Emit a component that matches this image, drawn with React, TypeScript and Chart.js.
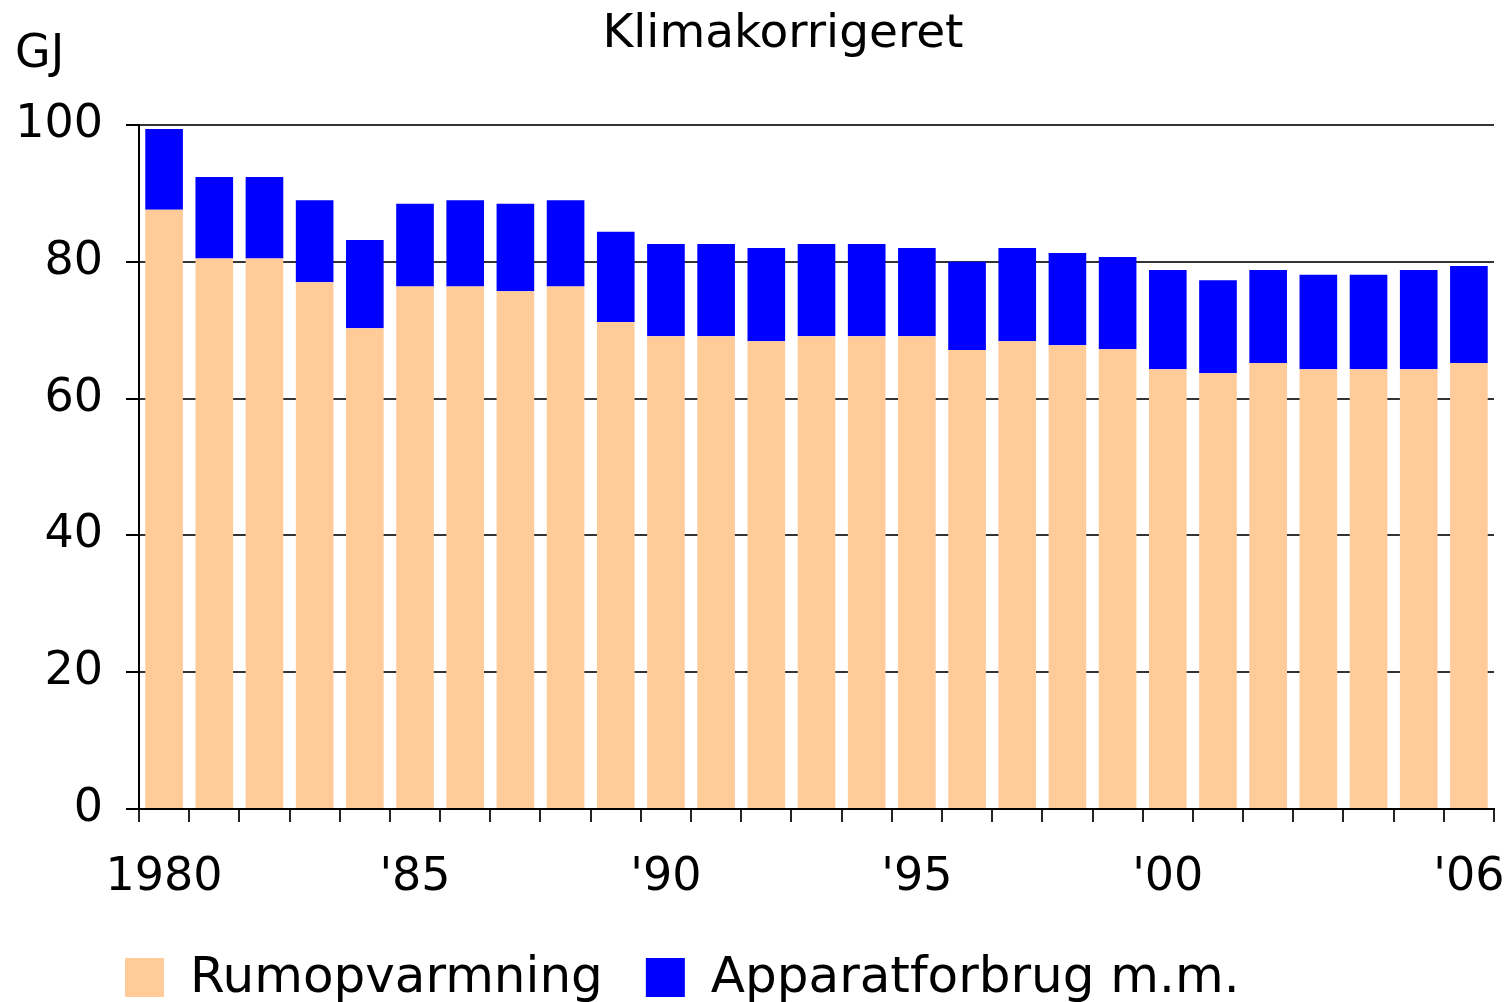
import React, { useEffect, useRef } from "react";
import { Chart, registerables } from "chart.js";

Chart.register(...registerables);

// Categories (years) and their displayed tick labels
const years = [
  1980, 1981, 1982, 1983, 1984, 1985, 1986, 1987, 1988, 1989,
  1990, 1991, 1992, 1993, 1994, 1995, 1996, 1997, 1998, 1999,
  2000, 2001, 2002, 2003, 2004, 2005, 2006,
];
const tickLabels = [
  "1980", "", "", "", "", "'85", "", "", "", "",
  "'90", "", "", "", "", "'95", "", "", "", "",
  "'00", "", "", "", "", "", "'06",
];

// Series values (GJ)
const rumopvarmning = [
  87.6, 80.5, 80.5, 77.0, 70.3, 76.4, 76.4, 75.7, 76.4, 71.2,
  69.1, 69.1, 68.4, 69.1, 69.1, 69.1, 67.1, 68.4, 67.8, 67.2,
  64.3, 63.7, 65.2, 64.3, 64.3, 64.3, 65.2,
];
const apparatforbrug = [
  11.8, 11.9, 11.9, 12.0, 12.9, 12.1, 12.6, 12.8, 12.6, 13.2,
  13.5, 13.5, 13.6, 13.5, 13.5, 12.9, 12.9, 13.6, 13.5, 13.5,
  14.5, 13.6, 13.6, 13.8, 13.8, 14.5, 14.2,
];

const seriesNames = ["Rumopvarmning", "Apparatforbrug m.m."];
const seriesColors = ["#FFCC99", "#0000FF"];
const yMin = 0;
const yMax = 100;
const yStep = 20;

const titleText = "Klimakorrigeret";
const unitText = "GJ";

const FONT = '"DejaVu Sans", Verdana, sans-serif';

const overlayPlugin = {
  id: "overlay",
  afterDraw(chart: any) {
    const ctx = chart.ctx as CanvasRenderingContext2D;
    ctx.save();
    ctx.fillStyle = "#000";
    ctx.textBaseline = "alphabetic";
    ctx.font = `47px ${FONT}`;
    ctx.textAlign = "center";
    ctx.fillText(titleText, 783, 47);
    ctx.font = `46px ${FONT}`;
    ctx.textAlign = "left";
    ctx.fillText(unitText, 15, 67);

    // Legend
    ctx.font = `50px ${FONT}`;
    let x = 125;
    const boxTop = 958;
    const boxSize = 39;
    chart.data.datasets.forEach((ds: any) => {
      ctx.fillStyle = ds.backgroundColor;
      ctx.fillRect(x, boxTop, boxSize, boxSize);
      ctx.fillStyle = "#000";
      const tx = x + 65;
      ctx.fillText(ds.label, tx, 992);
      x = tx + ctx.measureText(ds.label).width + 43;
    });
    ctx.restore();
  },
};

export default function App() {
  const ref = useRef<HTMLCanvasElement | null>(null);

  useEffect(() => {
    if (!ref.current) return;
    const chart = new Chart(ref.current, {
      type: "bar",
      data: {
        labels: tickLabels,
        datasets: [
          {
            label: seriesNames[0],
            data: rumopvarmning,
            backgroundColor: seriesColors[0],
            stack: "s",
            barPercentage: 0.75,
            categoryPercentage: 1,
          },
          {
            label: seriesNames[1],
            data: apparatforbrug,
            backgroundColor: seriesColors[1],
            stack: "s",
            barPercentage: 0.75,
            categoryPercentage: 1,
          },
        ],
      },
      options: {
        animation: false,
        responsive: false,
        devicePixelRatio: 1,
        layout: { padding: { top: 125, left: 0, right: 18, bottom: 0 } },
        plugins: {
          legend: { display: false },
          title: { display: false },
          tooltip: { enabled: false },
        },
        scales: {
          x: {
            stacked: true,
            offset: true,
            grid: {
              display: true,
              offset: true,
              drawOnChartArea: false,
              drawTicks: true,
              tickLength: 13,
              color: "#222",
              lineWidth: 2,
            },
            border: { display: true, color: "#000", width: 2 },
            ticks: {
              autoSkip: false,
              maxRotation: 0,
              minRotation: 0,
              color: "#000",
              padding: 28,
              font: { family: FONT, size: 46 },
            },
            afterFit: (s: any) => {
              s.height = 193;
              s.paddingLeft = 0;
              s.paddingRight = 0;
            },
          },
          y: {
            stacked: true,
            min: yMin,
            max: yMax,
            ticks: {
              stepSize: yStep,
              color: "#000",
              padding: 23,
              font: { family: FONT, size: 46 },
            },
            grid: {
              color: "#333",
              lineWidth: 2,
              tickLength: 13,
              tickColor: "#000",
            },
            border: { display: true, color: "#000", width: 2 },
            afterFit: (s: any) => {
              s.width = 139;
            },
          },
        },
      },
      plugins: [overlayPlugin],
    });
    return () => chart.destroy();
  }, []);

  return (
    <div style={{ position: "fixed", left: 0, top: 0, width: 1512, height: 1002, background: "#fff" }}>
      <canvas ref={ref} width={1512} height={1002} style={{ display: "block" }} />
    </div>
  );
}
